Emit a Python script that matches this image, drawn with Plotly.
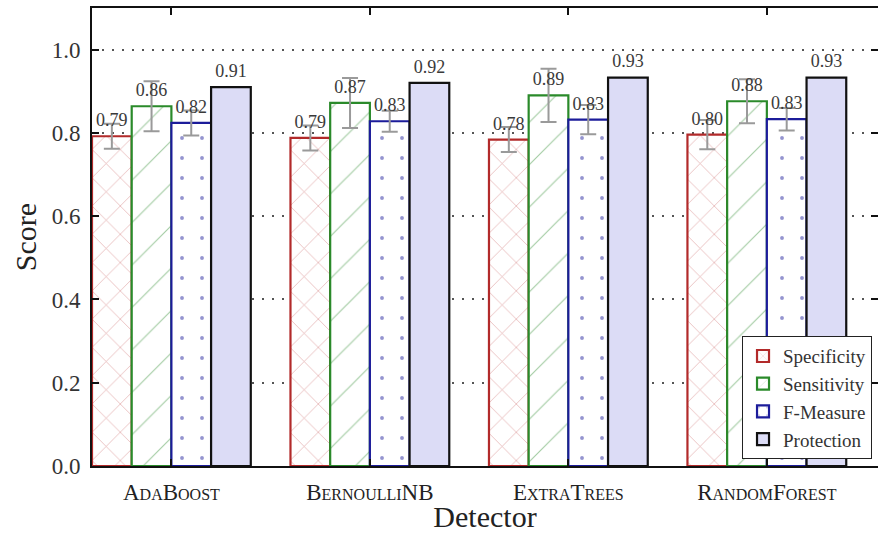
import plotly.graph_objects as go

detectors = ["AdaBoost", "BernoulliNB", "ExtraTrees", "RandomForest"]
series = ["Specificity", "Sensitivity", "F-Measure", "Protection"]
specificity = [0.792, 0.788, 0.784, 0.796]
sensitivity = [0.864, 0.872, 0.890, 0.876]
f_measure = [0.824, 0.828, 0.832, 0.833]
protection = [0.910, 0.920, 0.933, 0.933]
spec_err = [0.030, 0.030, 0.030, 0.035]
sens_err = [0.060, 0.060, 0.064, 0.053]
fm_err = [0.030, 0.025, 0.035, 0.027]
y_ticks = [0.0, 0.2, 0.4, 0.6, 0.8, 1.0]

values = [specificity, sensitivity, f_measure, protection]
errors = [spec_err, sens_err, fm_err, None]
offsets = [-0.3, -0.1, 0.1, 0.3]
edge = ["#b22a2a", "#2a8a2a", "#1c1c9a", "#111111"]
styles = [
    dict(shape="x", fgcolor="#c85a5a", bgcolor="white", size=20, solidity=0.07, fillmode="overlay"),
    dict(shape="/", fgcolor="#4a9a4a", bgcolor="white", size=30, solidity=0.04, fillmode="overlay"),
    dict(shape=".", fgcolor="#2a2aa0", bgcolor="white", size=20, solidity=0.03, fillmode="overlay"),
    None,
]
fills = ["white", "white", "white", "#dcdcf6"]

FONT = "Liberation Serif"
fig = go.Figure()
for k, name in enumerate(series):
    xs = [i + offsets[k] for i in range(len(detectors))]
    marker = dict(color=fills[k], line=dict(color=edge[k], width=2.2))
    if styles[k] is not None:
        marker["pattern"] = styles[k]
    err = None
    if errors[k] is not None:
        err = dict(type="data", array=errors[k], visible=True, color="#9a9a9a",
                   thickness=2, width=8)
    fig.add_trace(go.Bar(x=xs, y=values[k], width=0.2, name=name, marker=marker,
                         error_y=err))
for k, name in enumerate(series):
    xs = [i + offsets[k] for i in range(len(detectors))]
    fig.add_trace(go.Scatter(x=xs, y=[v + 0.035 for v in values[k]], mode="text",
                             text=[f"{v:.2f}" for v in values[k]],
                             textfont=dict(family=FONT, size=18, color="#3a3a3a"),
                             showlegend=False, hoverinfo="skip", cliponaxis=False))

fig.update_layout(
    width=878, height=533,
    margin=dict(l=92, r=0, t=8, b=67),
    plot_bgcolor="white", paper_bgcolor="white",
    barmode="overlay",
    font=dict(family=FONT, color="#222"),
    legend=dict(x=0.827, y=0.015, xanchor="left", yanchor="bottom",
                bgcolor="white", bordercolor="#222", borderwidth=1,
                font=dict(family=FONT, size=19, color="#333"),
                tracegroupgap=0, itemwidth=30),
)
fig.update_xaxes(range=[-0.4, 3.56], tickvals=list(range(len(detectors))), ticktext=detectors,
                 tickfont=dict(family=FONT, size=23, variant="small-caps", color="#222"),
                 showline=True, linecolor="#111", linewidth=2, mirror="ticks",
                 ticks="inside", ticklen=7, tickcolor="#111", tickwidth=1.5,
                 ticklabelstandoff=4, automargin=False,
                 showgrid=False, zeroline=False,
                 title=dict(text="Detector", font=dict(family=FONT, size=30, color="#222"),
                            standoff=2))
fig.update_yaxes(range=[0, 1.1], tickvals=y_ticks, tickformat=".1f",
                 tickfont=dict(family=FONT, size=23, color="#333"),
                 showline=True, linecolor="#111", linewidth=2, mirror="ticks",
                 ticks="inside", ticklen=7, tickcolor="#111", tickwidth=1.5,
                 ticklabelstandoff=5, automargin=False,
                 showgrid=True, gridcolor="#555", griddash="2px,8px", gridwidth=1.5,
                 zeroline=False,
                 title=dict(text="Score", font=dict(family=FONT, size=30, color="#222"),
                            standoff=6))
fig.write_html("out.html")
